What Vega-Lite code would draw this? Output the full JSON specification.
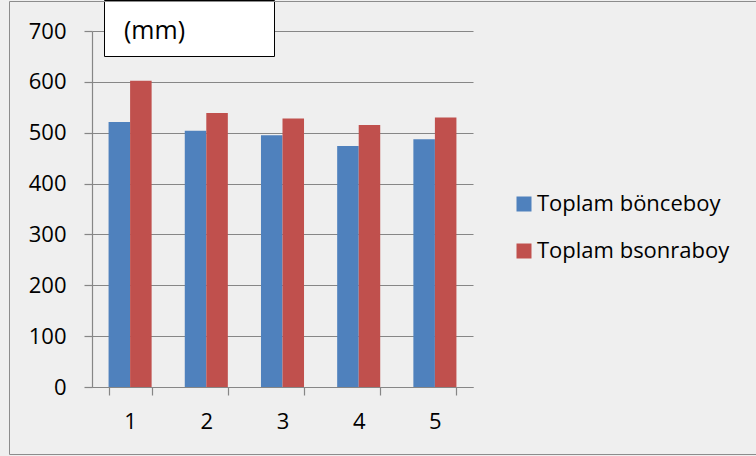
{
  "$schema": "https://vega.github.io/schema/vega-lite/v6.json",
  "autosize": "none",
  "width": 381,
  "height": 356,
  "padding": {"left": 92, "top": 31, "right": 283, "bottom": 69},
  "background": "#efefef",
  "config": {
    "font": "Open Sans",
    "view": {"stroke": null},
    "axis": {
      "labelFont": "Open Sans",
      "labelFontSize": 22,
      "labelColor": "#000000",
      "domainColor": "#868686",
      "domainWidth": 1.2,
      "tickColor": "#868686",
      "tickWidth": 1.2,
      "tickSize": 8,
      "gridColor": "#868686",
      "gridWidth": 1.2,
      "gridOpacity": 1,
      "title": null
    },
    "legend": {
      "labelFont": "Open Sans",
      "labelColor": "#000000",
      "labelLimit": 400,
      "padding": 0
    }
  },
  "layer": [
    {
      "data": {
        "values": [
          {"group": "1", "series": "Toplam bönceboy", "length": 521},
          {"group": "1", "series": "Toplam bsonraboy", "length": 602},
          {"group": "2", "series": "Toplam bönceboy", "length": 504},
          {"group": "2", "series": "Toplam bsonraboy", "length": 539},
          {"group": "3", "series": "Toplam bönceboy", "length": 495},
          {"group": "3", "series": "Toplam bsonraboy", "length": 528},
          {"group": "4", "series": "Toplam bönceboy", "length": 474},
          {"group": "4", "series": "Toplam bsonraboy", "length": 515},
          {"group": "5", "series": "Toplam bönceboy", "length": 487},
          {"group": "5", "series": "Toplam bsonraboy", "length": 530}
        ]
      },
      "mark": {"type": "bar"},
      "encoding": {
        "x": {
          "field": "group",
          "type": "ordinal",
          "scale": {"paddingInner": 0.435, "paddingOuter": 0.2175},
          "axis": {
            "labelAngle": 0,
            "labelPadding": 16,
            "tickBand": "extent",
            "grid": false
          }
        },
        "xOffset": {
          "field": "series",
          "type": "nominal",
          "sort": ["Toplam bönceboy", "Toplam bsonraboy"]
        },
        "y": {
          "field": "length",
          "type": "quantitative",
          "scale": {"domain": [0, 700], "nice": false},
          "axis": {
            "values": [0, 100, 200, 300, 400, 500, 600, 700],
            "labelPadding": 18,
            "grid": true
          }
        },
        "color": {
          "field": "series",
          "type": "nominal",
          "scale": {
            "domain": ["Toplam bönceboy", "Toplam bsonraboy"],
            "range": ["#4f81bd", "#c0504d"]
          },
          "legend": {
            "orient": "none",
            "legendX": 421,
            "legendY": 162,
            "title": null,
            "symbolType": "square",
            "symbolSize": 225,
            "symbolStrokeWidth": 0,
            "symbolOpacity": 1,
            "labelOffset": 2,
            "labelFontSize": 22,
            "rowPadding": 25
          }
        }
      }
    },
    {
      "data": {"values": [{"unit": "(mm)"}]},
      "mark": {"type": "point", "opacity": 0, "size": 2809, "filled": true},
      "encoding": {
        "shape": {
          "field": "unit",
          "type": "nominal",
          "scale": {"range": ["M-1,-0.811H5.113V0.811H-1Z"]},
          "legend": {
            "orient": "none",
            "legendX": 12,
            "legendY": -31,
            "title": null,
            "padding": 4,
            "fillColor": "#ffffff",
            "strokeColor": "#000000",
            "symbolSize": 2809,
            "symbolOpacity": 0,
            "symbolStrokeWidth": 0,
            "labelOffset": -37,
            "labelFontSize": 25
          }
        }
      }
    },
    {
      "data": {"values": [{"frame": "chart"}]},
      "mark": {"type": "point", "opacity": 0, "filled": true},
      "encoding": {
        "size": {
          "field": "frame",
          "type": "ordinal",
          "scale": {"range": [205209, 205209]},
          "legend": {
            "orient": "none",
            "legendX": -83,
            "legendY": -30,
            "title": null,
            "padding": 0,
            "strokeColor": "#8c8c8c",
            "symbolType": "M-1,-1H2.4V1H-1Z",
            "symbolOpacity": 0,
            "symbolStrokeWidth": 0,
            "labelExpr": "''"
          }
        }
      }
    }
  ]
}
